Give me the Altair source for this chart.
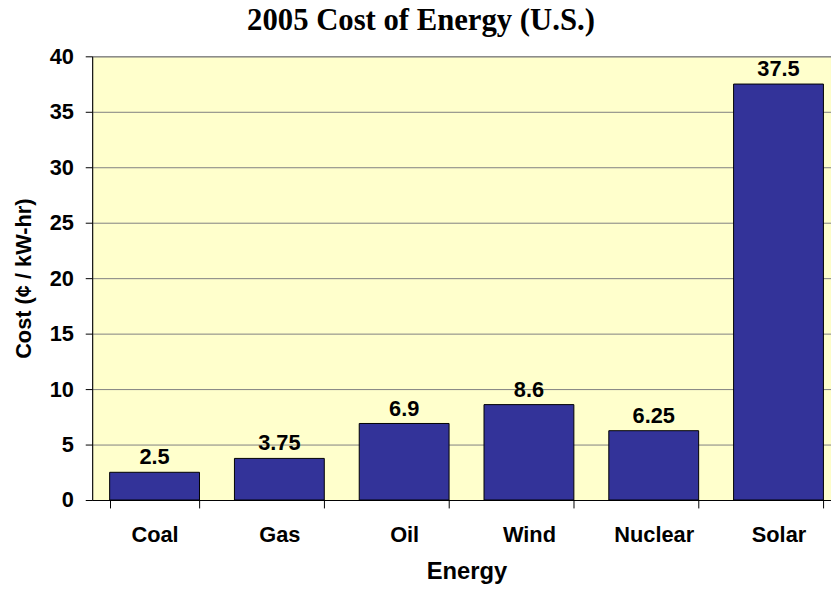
import altair as alt
import pandas as pd

categories = ["Coal", "Gas", "Oil", "Wind", "Nuclear", "Solar"]
costs = [2.5, 3.75, 6.9, 8.6, 6.25, 37.5]
value_labels = ["2.5", "3.75", "6.9", "8.6", "6.25", "37.5"]
y_ticks = [0, 5, 10, 15, 20, 25, 30, 35, 40]

df = pd.DataFrame({"Energy": categories, "Cost": costs, "Label": value_labels})

SANS = "Liberation Sans"
SERIF = "Liberation Serif"

x_enc = alt.X(
    "Energy:N",
    sort=categories,
    title="Energy",
    scale=alt.Scale(range=[0, 756], paddingInner=0.28, paddingOuter=0.14),
    axis=alt.Axis(
        labelAngle=0,
        tickBand="extent",
        tickSize=8,
        tickColor="black",
        domainColor="black",
        labelFont=SANS,
        labelFontSize=22,
        labelFontWeight="bold",
        labelColor="black",
        labelPadding=17,
        titleFont=SANS,
        titleFontSize=24,
        titleFontWeight="bold",
        titleColor="black",
        titlePadding=14,
        grid=False,
    ),
)

y_enc = alt.Y(
    "Cost:Q",
    scale=alt.Scale(domain=[0, 40], nice=False),
    title="Cost (¢ / kW-hr)",
    axis=alt.Axis(
        values=y_ticks,
        tickSize=7,
        tickColor="black",
        domainColor="black",
        gridColor="#808080",
        gridWidth=1,
        labelFont=SANS,
        labelFontSize=22,
        labelFontWeight="bold",
        labelColor="black",
        labelPadding=12,
        titleFont=SANS,
        titleFontSize=22,
        titleFontWeight="bold",
        titleColor="black",
        titlePadding=14,
    ),
)

bars = alt.Chart(df).mark_bar(color="#333399", stroke="black", strokeWidth=1).encode(
    x=x_enc, y=y_enc
)

text = alt.Chart(df).mark_text(
    font=SANS, fontSize=22, fontWeight="bold", baseline="alphabetic", dy=-8, color="black"
).encode(
    x=alt.X("Energy:N", sort=categories),
    y=alt.Y("Cost:Q"),
    text="Label:N",
)

chart = (
    alt.layer(bars, text)
    .properties(
        width=746,
        height=448,
        title=alt.TitleParams(
            "2005 Cost of Energy (U.S.)",
            font=SERIF,
            fontSize=31,
            fontWeight="bold",
            color="black",
            anchor="middle",
            dx=-41,
            baseline="alphabetic",
            offset=-15,
        ),
        autosize=alt.AutoSizeParams(type="none"),
        padding={"left": 85, "top": 46, "right": 0, "bottom": 82},
    )
    .configure_view(fill="#FFFFCC", stroke="#808080")
)

chart.save("out.html", embed_options={"renderer": "svg", "actions": False})
